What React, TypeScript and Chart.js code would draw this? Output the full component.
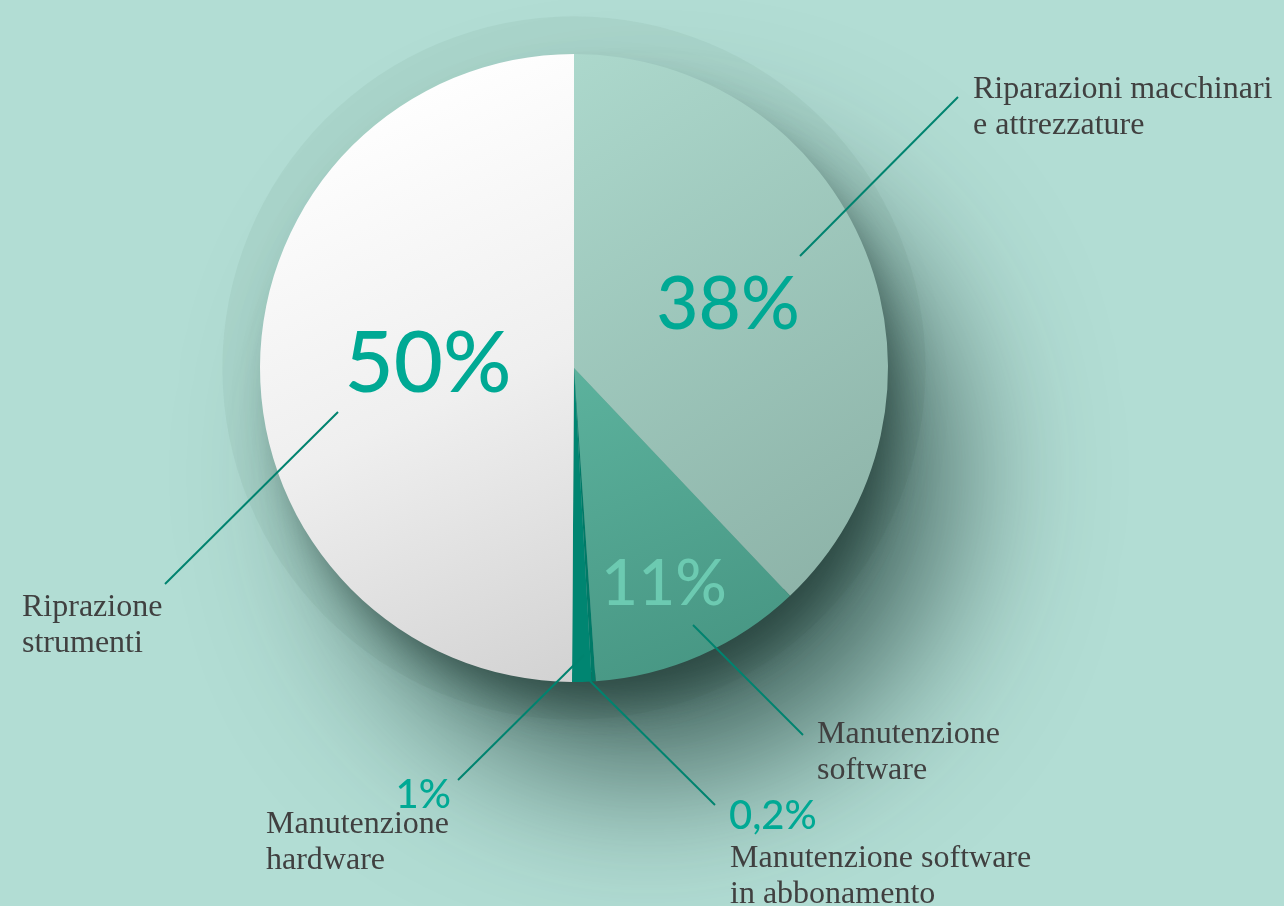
import { useEffect, useRef } from "react";
import { Chart, registerables } from "chart.js";

Chart.register(...registerables);

// ---- data ----
const categories = [
  "Riparazioni macchinari e attrezzature",
  "Manutenzione software",
  "Manutenzione software in abbonamento",
  "Manutenzione hardware",
  "Riprazione strumenti",
];
const values = [38, 11, 0.2, 1, 50];
const percentTexts = ["38%", "11%", "0,2%", "1%", "50%"];
const nameLines = [
  ["Riparazioni macchinari", "e attrezzature"],
  ["Manutenzione", "software"],
  ["Manutenzione software", "in abbonamento"],
  ["Manutenzione", "hardware"],
  ["Riprazione", "strumenti"],
];

// ---- label layout (relative to pie centre, in units of radius) ----
type Lay = {
  pct: [number, number];
  pctAlign: CanvasTextAlign;
  pctSize: number;
  pctColor: string;
  line: [[number, number], [number, number]];
  name: [number, number];
};
const R0 = 314;
const rel = (x: number, y: number): [number, number] => [(x - 574) / R0, (y - 368) / R0];
const layout: Lay[] = [
  { pct: rel(728, 305), pctAlign: "center", pctSize: 73, pctColor: "#00a994", line: [rel(800, 256), rel(958, 97)], name: rel(973, 98) },
  { pct: rel(664, 584), pctAlign: "center", pctSize: 64, pctColor: "#6ccab1", line: [rel(693, 625), rel(803, 735)], name: rel(817, 743) },
  { pct: rel(729, 816), pctAlign: "left", pctSize: 40, pctColor: "#00a994", line: [rel(590, 681), rel(715, 805)], name: rel(730, 867) },
  { pct: rel(451, 795), pctAlign: "right", pctSize: 40, pctColor: "#00a994", line: [rel(584, 655), rel(458, 780)], name: rel(266, 833) },
  { pct: rel(428, 365), pctAlign: "center", pctSize: 85, pctColor: "#00a994", line: [rel(338, 412), rel(165, 584)], name: rel(22, 616) },
];

const BG = "#b2ddd4";

const shadowPlugin = {
  id: "pieShadow",
  beforeDatasetsDraw(chart: any) {
    const arc = chart.getDatasetMeta(0).data[0];
    if (!arc) return;
    const { x, y, outerRadius: r } = arc;
    const ctx = chart.ctx as CanvasRenderingContext2D;
    ctx.save();
    // halo ring
    ctx.beginPath();
    ctx.arc(x, y, r * 1.12, 0, Math.PI * 2);
    ctx.fillStyle = "#aad5cb";
    ctx.fill();
    // wide soft shadow
    ctx.shadowColor = "rgba(30,60,55,0.75)";
    ctx.shadowBlur = 150;
    ctx.shadowOffsetX = 75;
    ctx.shadowOffsetY = 105;
    ctx.beginPath();
    ctx.arc(x, y, r * 0.97, 0, Math.PI * 2);
    ctx.fillStyle = "#8aa9a2";
    ctx.fill();
    // tighter dark shadow
    ctx.shadowColor = "rgba(25,50,45,0.6)";
    ctx.shadowBlur = 45;
    ctx.shadowOffsetX = 16;
    ctx.shadowOffsetY = 30;
    ctx.fill();
    ctx.restore();
  },
};

const labelPlugin = {
  id: "pieLabels",
  afterDatasetsDraw(chart: any) {
    const arc = chart.getDatasetMeta(0).data[0];
    if (!arc) return;
    const { x: cx, y: cy, outerRadius: r } = arc;
    const ctx = chart.ctx as CanvasRenderingContext2D;
    ctx.save();
    layout.forEach((l, i) => {
      ctx.beginPath();
      ctx.moveTo(cx + l.line[0][0] * r, cy + l.line[0][1] * r);
      ctx.lineTo(cx + l.line[1][0] * r, cy + l.line[1][1] * r);
      ctx.strokeStyle = "#00836f";
      ctx.lineWidth = 2;
      ctx.stroke();
      ctx.font = `500 ${l.pctSize}px Lato, "Open Sans", sans-serif`;
      ctx.fillStyle = l.pctColor;
      ctx.textAlign = l.pctAlign;
      ctx.textBaseline = "middle";
      ctx.fillText(percentTexts[i], cx + l.pct[0] * r, cy + l.pct[1] * r);
      ctx.font = `400 32px "Liberation Serif", serif`;
      ctx.fillStyle = "#404040";
      ctx.textAlign = "left";
      ctx.textBaseline = "alphabetic";
      nameLines[i].forEach((t, k) => {
        ctx.fillText(t, cx + l.name[0] * r, cy + l.name[1] * r + k * 36);
      });
    });
    ctx.restore();
  },
};

function sliceFill(ctx: any) {
  const chart = ctx.chart;
  const area = chart.chartArea;
  if (!area) return "#ccc";
  const c = chart.ctx as CanvasRenderingContext2D;
  const cx = (area.left + area.right) / 2;
  const cy = (area.top + area.bottom) / 2;
  const r = Math.min(area.right - area.left, area.bottom - area.top) / 2;
  const i = ctx.dataIndex;
  if (i === 0) {
    const g = c.createLinearGradient(cx, cy - r, cx + r, cy + r * 0.6);
    g.addColorStop(0, "#acd8cc");
    g.addColorStop(1, "#8db3a8");
    return g;
  }
  if (i === 1) {
    const g = c.createLinearGradient(cx, cy, cx + r * 0.4, cy + r);
    g.addColorStop(0, "#5cb29d");
    g.addColorStop(1, "#479683");
    return g;
  }
  if (i === 2) return "#007a67";
  if (i === 3) return "#008571";
  const g = c.createLinearGradient(cx - r * 0.8, cy - r * 0.8, cx, cy + r);
  g.addColorStop(0, "#ffffff");
  g.addColorStop(0.5, "#efefef");
  g.addColorStop(1, "#d2d2d2");
  return g;
}

export default function App() {
  const ref = useRef<HTMLCanvasElement>(null);
  useEffect(() => {
    if (!ref.current) return;
    const chart = new Chart(ref.current, {
      type: "pie",
      data: {
        labels: categories,
        datasets: [
          {
            data: values,
            backgroundColor: sliceFill as any,
            borderWidth: 0,
          },
        ],
      },
      options: {
        responsive: false,
        animation: false,
        layout: { padding: { left: 260, right: 396, top: 54, bottom: 224 } },
        plugins: { legend: { display: false }, tooltip: { enabled: false } },
      },
      plugins: [shadowPlugin, labelPlugin],
    });
    return () => chart.destroy();
  }, []);
  return (
    <div style={{ position: "fixed", left: 0, top: 0, width: 1284, height: 906, background: BG, overflow: "hidden" }}>
      <canvas ref={ref} width={1284} height={906} style={{ display: "block" }} />
    </div>
  );
}
